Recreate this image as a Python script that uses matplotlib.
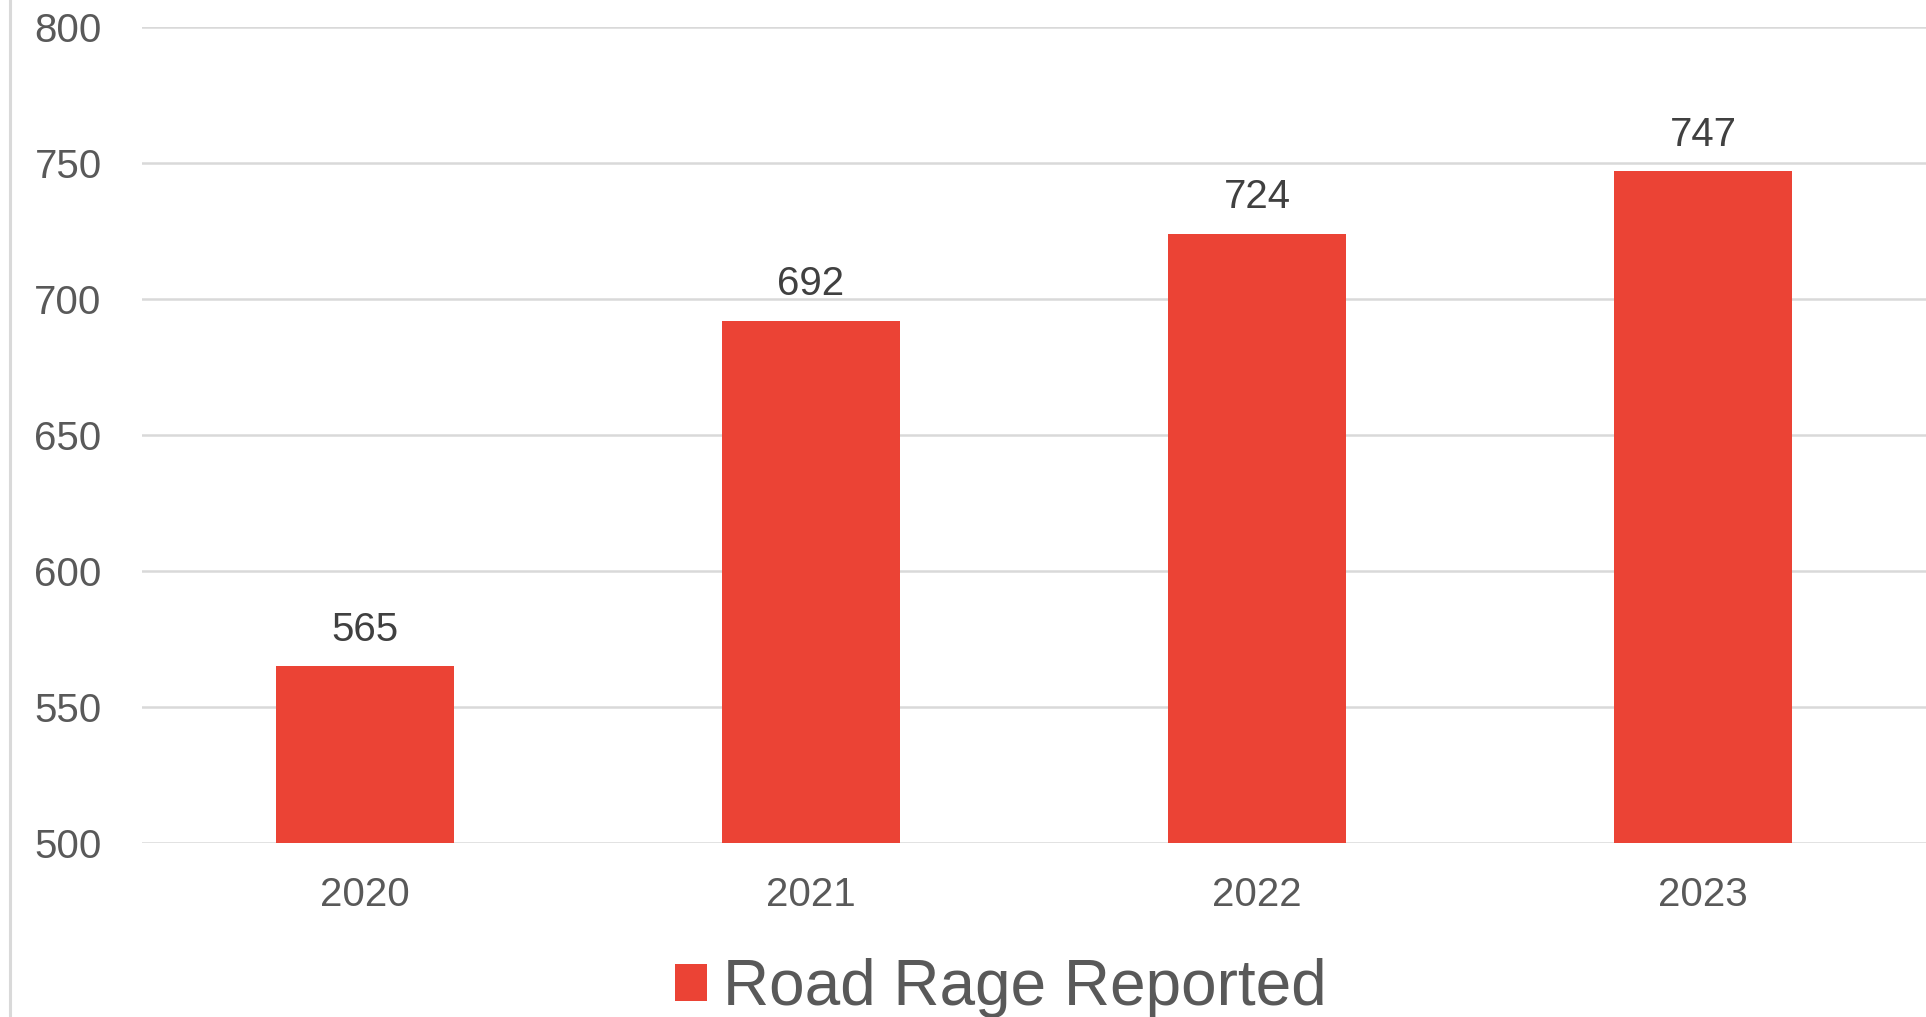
import matplotlib
matplotlib.use('Agg')
import matplotlib.pyplot as plt
from matplotlib.lines import Line2D

years = ['2020', '2021', '2022', '2023']
reported = [565, 692, 724, 747]
series_name = 'Road Rage Reported'
yticks = [500, 550, 600, 650, 700, 750, 800]

RED = '#EB4335'
GRID = '#D9D9D9'
TICK = '#595959'
LABEL = '#404040'

plt.rcParams['font.family'] = ['Liberation Sans', 'DejaVu Sans']

fig = plt.figure(figsize=(19.26, 10.17), dpi=100, facecolor='white')
ax = fig.add_axes([0.0737, 0.1711, 0.9263, 0.8024])

x = range(len(years))
bars = ax.bar(x, [v - 500 for v in reported], bottom=500, width=0.4,
              color=RED, label=series_name, zorder=3)
for b, v in zip(bars, reported):
    ax.annotate(str(v), (b.get_x() + b.get_width() / 2, v), xytext=(0, 12.5),
                textcoords='offset points', ha='center', va='bottom',
                fontsize=29, color=LABEL)

ax.set_xlim(-0.5, 3.5)
ax.set_ylim(500, 800)
ax.set_yticks(yticks)
ax.set_xticks(list(x))
ax.set_xticklabels(years)
ax.yaxis.grid(True, color=GRID, linewidth=1.8, zorder=0)
ax.set_axisbelow(True)
for s in ax.spines.values():
    s.set_visible(False)
ax.tick_params(axis='y', length=0, pad=29, labelsize=29, labelcolor=TICK)
ax.tick_params(axis='x', length=0, pad=24, labelsize=29, labelcolor=TICK)

# left border line
fig.add_artist(Line2D([10 / 1926, 10 / 1926], [0, 1], color=GRID, linewidth=2.2,
                      transform=fig.transFigure))

fig.legend(handles=[bars], labels=[series_name], loc='center',
           bbox_to_anchor=(1001 / 1926, 1 - 988 / 1017), frameon=False,
           fontsize=46, handlelength=0.5, handleheight=0.5, handletextpad=0.25,
           labelcolor=TICK)

fig.savefig('out.png', dpi=100, facecolor='white')
